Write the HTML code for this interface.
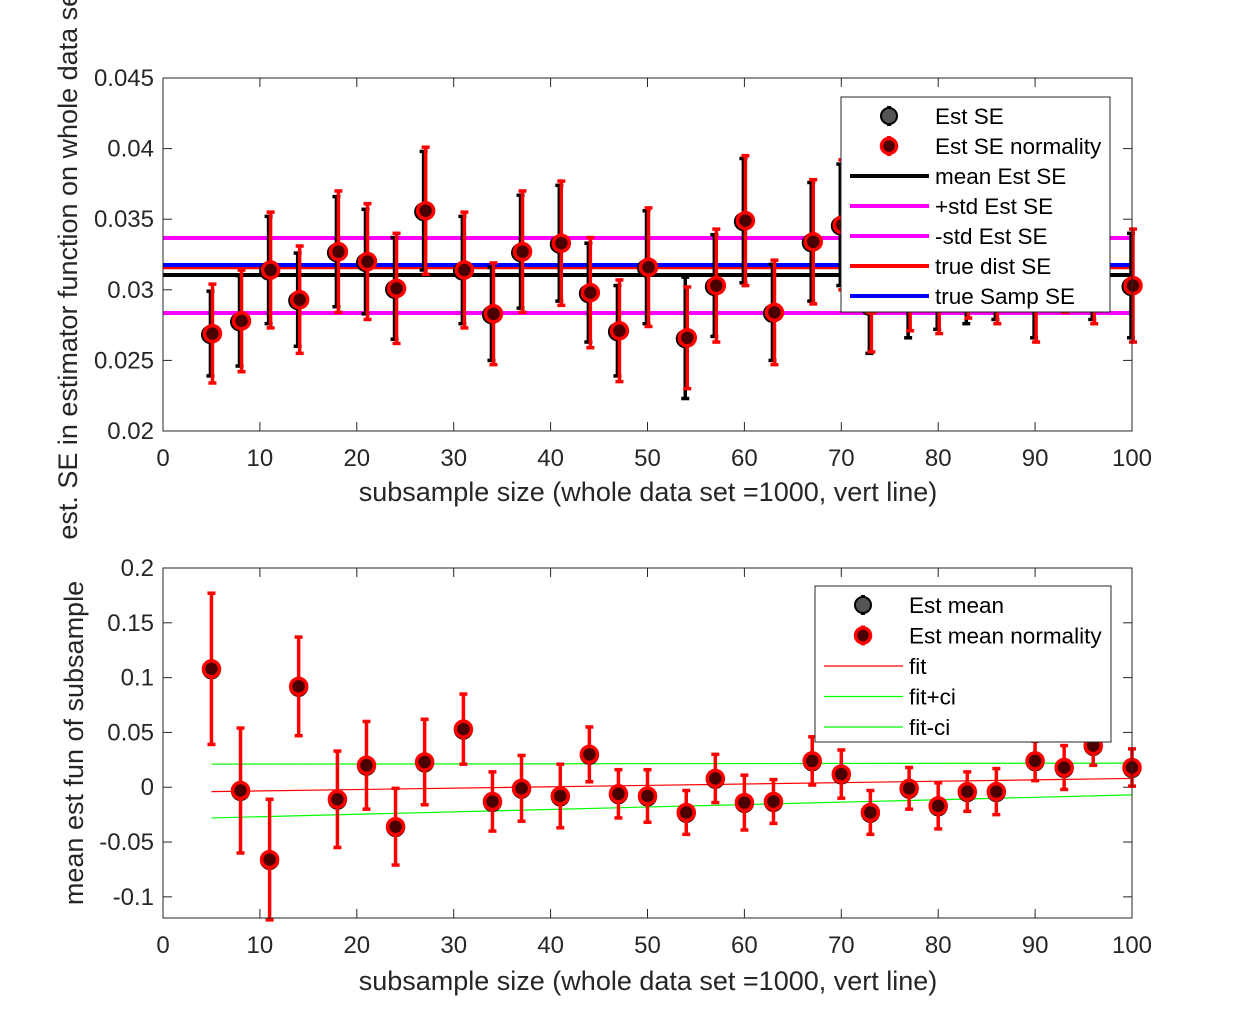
<!DOCTYPE html>
<html><head><meta charset="utf-8">
<style>
html,body{margin:0;padding:0;background:#fff;}
svg{display:block;font-family:"Liberation Sans",Arial,sans-serif;}
</style></head>
<body>
<svg id="chart" width="1252" height="1033" viewBox="0 0 1252 1033"></svg>
<script>
// ---- data: top panel (estimated SE) ----
const xs = [5,8,11,14,18,21,24,27,31,34,37,41,44,47,50,54,57,60,63,67,70,73,77,80,83,86,90,93,96,100];
const seVals = [0.0269,0.0278,0.0314,0.0293,0.0327,0.0320,0.0301,0.0356,0.0314,0.0283,0.0327,0.0333,0.0298,0.0271,0.0316,0.0266,0.0303,0.0349,0.0284,0.0334,0.0346,0.0289,0.0303,0.0302,0.0308,0.0310,0.0296,0.0320,0.0310,0.0303];
const seErrNorm = [0.0035,0.0036,0.0041,0.0038,0.0043,0.0041,0.0039,0.0045,0.0041,0.0036,0.0043,0.0044,0.0039,0.0036,0.0042,0.0036,0.0040,0.0046,0.0037,0.0044,0.0046,0.0033,0.0032,0.0033,0.0028,0.0034,0.0033,0.0036,0.0034,0.0040];
const seErrBoot = [0.0030,0.0032,0.0038,0.0033,0.0039,0.0037,0.0036,0.0042,0.0038,0.0033,0.0040,0.0041,0.0035,0.0032,0.0040,0.0043,0.0036,0.0044,0.0034,0.0042,0.0043,0.0034,0.0037,0.0030,0.0032,0.0031,0.0030,0.0033,0.0031,0.0037];
const hLineVals = [0.03367,0.02836,0.03160,0.03176,0.03105];
const hLineNames = ['plus-std-line','minus-std-line','true-dist-se-line','true-samp-se-line','mean-est-se-line'];
const hLineColors = ['#ff00ff','#ff00ff','#ff0000','#0000ff','#000000'];
const topYTicks = [0.02,0.025,0.03,0.035,0.04,0.045];
const topYTickLabels = ['0.02','0.025','0.03','0.035','0.04','0.045'];
const xTicks = [0,10,20,30,40,50,60,70,80,90,100];
// ---- data: bottom panel (estimated mean) ----
const meanVals = [0.108,-0.003,-0.066,0.092,-0.011,0.020,-0.036,0.023,0.053,-0.013,-0.001,-0.008,0.030,-0.006,-0.008,-0.023,0.008,-0.014,-0.013,0.024,0.012,-0.023,-0.001,-0.017,-0.004,-0.004,0.024,0.018,0.038,0.018];
const meanErr = [0.069,0.057,0.055,0.045,0.044,0.040,0.035,0.039,0.032,0.027,0.030,0.029,0.025,0.022,0.024,0.020,0.022,0.025,0.020,0.022,0.022,0.020,0.019,0.021,0.018,0.021,0.018,0.020,0.018,0.017];
const fitX = [5,100];
const fitY = [-0.004,0.008];
const fitUpY = [0.021,0.022];
const fitLoY = [-0.028,-0.007];
const botYTicks = [-0.1,-0.05,0,0.05,0.1,0.15,0.2];
const botYTickLabels = ['-0.1','-0.05','0','0.05','0.1','0.15','0.2'];

const NS='http://www.w3.org/2000/svg';
const svg=document.getElementById('chart');
function mk(tag,attrs,parent){const e=document.createElementNS(NS,tag);for(const k in attrs)e.setAttribute(k,attrs[k]);(parent||svg).appendChild(e);return e;}

const TICKFS=24, TITLEFS=27, LEGFS=22.5;
const L=163,R=1132;
const xS=v=>L+(v-0)/(100-0)*(R-L);
const topT=78,topB=431,topMin=0.02,topMax=0.045;
const yT=v=>topB-(v-topMin)/(topMax-topMin)*(topB-topT);
const botT=568,botB=918,botMin=-0.1193,botMax=0.2;
const yB=v=>botB-(v-botMin)/(botMax-botMin)*(botB-botT);

function axes(g,top,bot,yTicks,yLabels,yFn,name){
  const ax=mk('g',{},g);
  
  
  mk('rect',{x:L,y:top,width:R-L,height:bot-top,fill:'#fff',stroke:'none'},ax);
  xTicks.forEach(t=>{const x=xS(t);
    mk('line',{x1:x,y1:bot,x2:x,y2:bot-9,stroke:'#262626','stroke-width':1},ax);
    mk('line',{x1:x,y1:top,x2:x,y2:top+9,stroke:'#262626','stroke-width':1},ax);
    const tl=mk('text',{x:x,y:bot+35,'text-anchor':'middle','font-size':TICKFS,fill:'#262626'},ax);
    tl.textContent=String(t);
    
    
  });
  yTicks.forEach((t,i)=>{const y=yFn(t);
    mk('line',{x1:L,y1:y,x2:L+9,y2:y,stroke:'#262626','stroke-width':1},ax);
    mk('line',{x1:R,y1:y,x2:R-9,y2:y,stroke:'#262626','stroke-width':1},ax);
    const tl=mk('text',{x:L-9,y:y+8,'text-anchor':'end','font-size':TICKFS,fill:'#262626'},ax);
    tl.textContent=yLabels[i];
    
    
  });
  return ax;
}
function box(top,bot){mk('rect',{x:L,y:top,width:R-L,height:bot-top,fill:'none',stroke:'#262626','stroke-width':1});}

function errbar(g,x,yc,yLo,yHi,color,w){
  mk('line',{x1:x,y1:yLo,x2:x,y2:yHi,stroke:color,'stroke-width':w},g);
  mk('line',{x1:x-4,y1:yLo,x2:x+4,y2:yLo,stroke:color,'stroke-width':w},g);
  mk('line',{x1:x-4,y1:yHi,x2:x+4,y2:yHi,stroke:color,'stroke-width':w},g);
}

// ===== TOP PANEL =====
const gTop=mk('g',{});


axes(gTop,topT,topB,topYTicks,topYTickLabels,yT,'se');
hLineVals.forEach((v,i)=>{
  const ln=mk('line',{x1:L,x2:R,y1:yT(v),y2:yT(v),stroke:hLineColors[i],'stroke-width':4},gTop);
  
  
});
xs.forEach((xv,i)=>{
  const x=xS(xv);
  const g=mk('g',{},gTop);
  
  
  errbar(g,x-1,yT(seVals[i]),yT(seVals[i]-seErrBoot[i]),yT(seVals[i]+seErrBoot[i]),'#000',3.5);
  mk('circle',{cx:x-1,cy:yT(seVals[i])+1,r:8.5,fill:'#444',stroke:'#000','stroke-width':2},g);
  errbar(g,x+1,yT(seVals[i]),yT(seVals[i]-seErrNorm[i]),yT(seVals[i]+seErrNorm[i]),'#ff0000',3.5);
  mk('circle',{cx:x+1,cy:yT(seVals[i]),r:8,fill:'#4a0000',stroke:'#ff0000','stroke-width':3.5},g);
});
box(topT,topB);
(function(){
  const lg=mk('g',{});
  
  
  mk('rect',{x:841,y:97,width:269,height:215,fill:'#fff',stroke:'#262626','stroke-width':1},lg);
  const labels=['Est SE','Est SE normality','mean Est SE','+std Est SE','-std Est SE','true dist SE','true Samp SE'];
  const cols=[null,null,'#000','#ff00ff','#ff00ff','#ff0000','#0000ff'];
  labels.forEach((t,i)=>{
    const y=116+i*30;
    const e=mk('g',{},lg);
    
    
    if(i===0){mk('line',{x1:889,x2:889,y1:y-10,y2:y+10,stroke:'#000','stroke-width':4},e);mk('circle',{cx:889,cy:y,r:8,fill:'#555',stroke:'#000','stroke-width':2},e);}
    else if(i===1){mk('line',{x1:889,x2:889,y1:y-10,y2:y+10,stroke:'#f00','stroke-width':4},e);mk('circle',{cx:889,cy:y,r:7.5,fill:'#4a0000',stroke:'#f00','stroke-width':3.5},e);}
    else mk('line',{x1:850,x2:929,y1:y,y2:y,stroke:cols[i],'stroke-width':4},e);
    const tx=mk('text',{x:935,y:y+8,'font-size':LEGFS,fill:'#000'},e);tx.textContent=t;
  });
})();
const xt1=mk('text',{x:648,y:501,'text-anchor':'middle','font-size':TITLEFS,fill:'#262626'});
xt1.textContent='subsample size (whole data set =1000, vert line)';


const yt1=mk('text',{x:0,y:0,'text-anchor':'middle','font-size':TITLEFS,fill:'#262626',transform:'translate(77,262) rotate(-90)'});
yt1.textContent='est. SE in estimator function on whole data set';



// ===== BOTTOM PANEL =====
const gBot=mk('g',{});


axes(gBot,botT,botB,botYTicks,botYTickLabels,yB,'mean');
const fitDefs=[[fitY,'#ff0000','fit-line'],[fitUpY,'#00ff00','fit-plus-ci-line'],[fitLoY,'#00ff00','fit-minus-ci-line']];
fitDefs.forEach(d=>{
  const ln=mk('line',{x1:xS(fitX[0]),x2:xS(fitX[1]),y1:yB(d[0][0]),y2:yB(d[0][1]),stroke:d[1],'stroke-width':1.2},gBot);
  
  
});
xs.forEach((xv,i)=>{
  const x=xS(xv);
  const g=mk('g',{},gBot);
  
  
  mk('circle',{cx:x,cy:yB(meanVals[i])+1,r:8.5,fill:'#444',stroke:'#000','stroke-width':2},g);
  errbar(g,x,yB(meanVals[i]),yB(meanVals[i]-meanErr[i]),yB(meanVals[i]+meanErr[i]),'#ff0000',3.5);
  mk('circle',{cx:x,cy:yB(meanVals[i]),r:8,fill:'#4a0000',stroke:'#ff0000','stroke-width':3.5},g);
});
box(botT,botB);
(function(){
  const lg=mk('g',{});
  
  
  mk('rect',{x:815,y:586,width:296,height:156,fill:'#fff',stroke:'#262626','stroke-width':1},lg);
  const labels=['Est mean','Est mean normality','fit','fit+ci','fit-ci'];
  const cols=[null,null,'#ff0000','#00ff00','#00ff00'];
  labels.forEach((t,i)=>{
    const y=605+i*30.5;
    const e=mk('g',{},lg);
    
    
    if(i===0){mk('line',{x1:863,x2:863,y1:y-10,y2:y+10,stroke:'#000','stroke-width':4},e);mk('circle',{cx:863,cy:y,r:8,fill:'#555',stroke:'#000','stroke-width':2},e);}
    else if(i===1){mk('line',{x1:863,x2:863,y1:y-10,y2:y+10,stroke:'#f00','stroke-width':4},e);mk('circle',{cx:863,cy:y,r:7.5,fill:'#4a0000',stroke:'#f00','stroke-width':3.5},e);}
    else mk('line',{x1:824,x2:903,y1:y,y2:y,stroke:cols[i],'stroke-width':1.2},e);
    const tx=mk('text',{x:909,y:y+8,'font-size':LEGFS,fill:'#000'},e);tx.textContent=t;
  });
})();
const xt2=mk('text',{x:648,y:990,'text-anchor':'middle','font-size':TITLEFS,fill:'#262626'});
xt2.textContent='subsample size (whole data set =1000, vert line)';


const yt2=mk('text',{x:0,y:0,'text-anchor':'middle','font-size':TITLEFS,fill:'#262626',transform:'translate(83,743) rotate(-90)'});
yt2.textContent='mean est fun of subsample';


</script>
</body></html>
